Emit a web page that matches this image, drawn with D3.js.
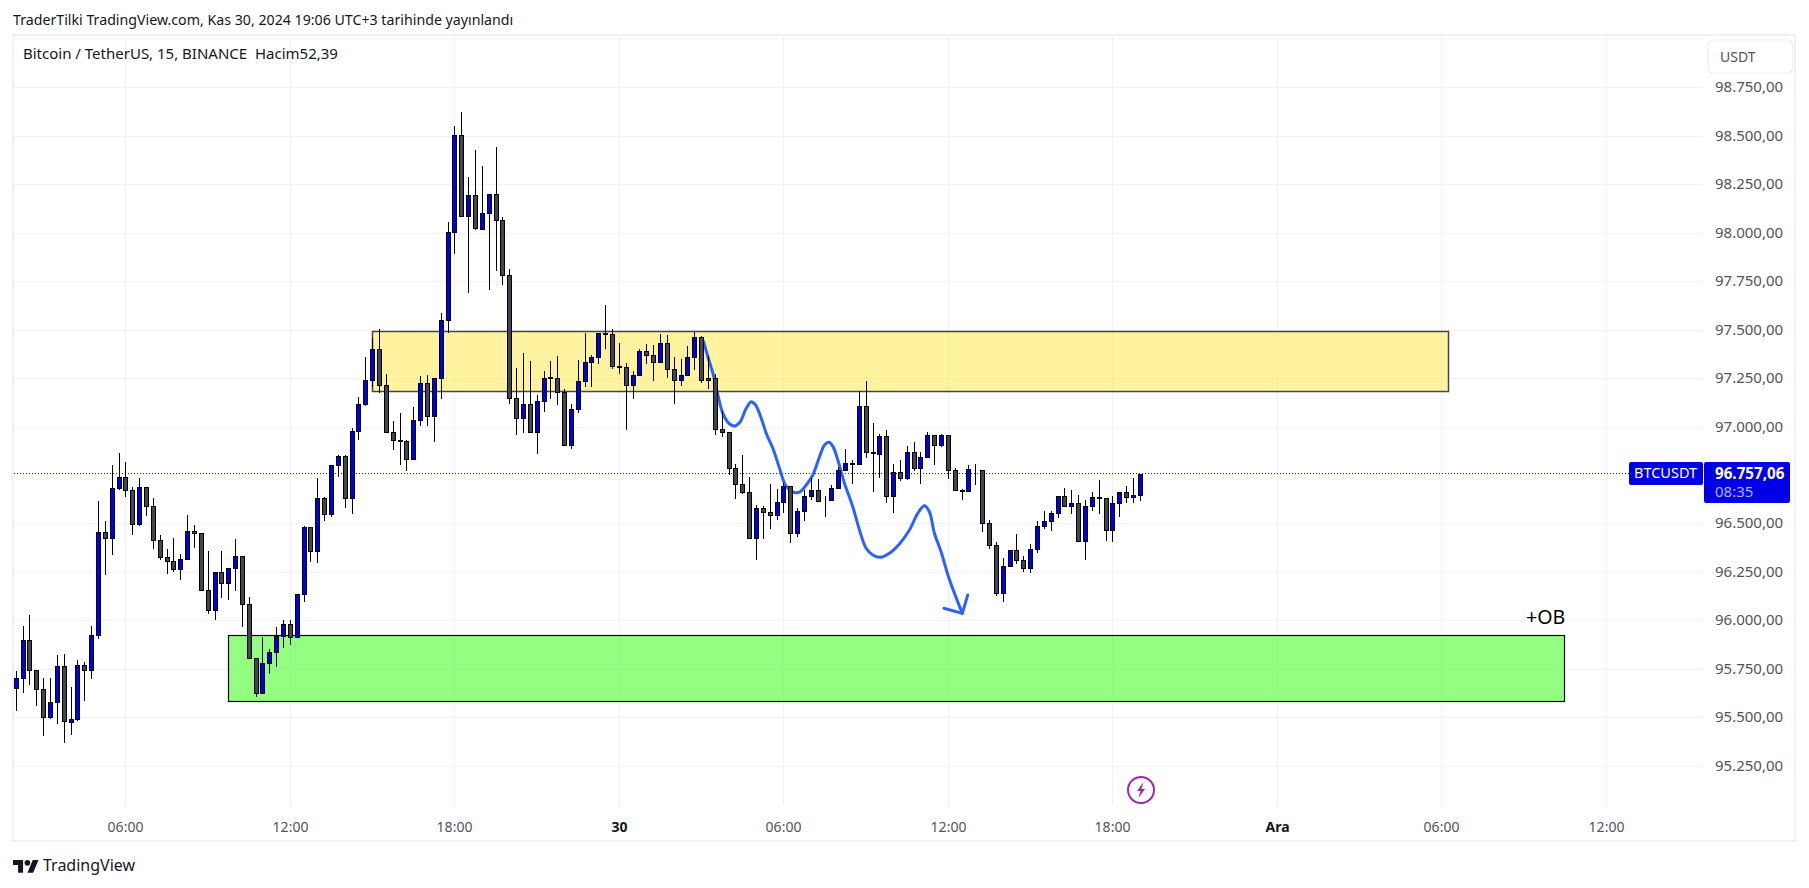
<!DOCTYPE html>
<html><head><meta charset="utf-8">
<script src="https://cdn.jsdelivr.net/npm/d3@7"></script>
<style>
html,body{margin:0;padding:0;background:#fff;overflow:hidden}
svg{display:block}
text{font-family:"Noto Sans",sans-serif}
</style></head><body>
<svg id="c" width="1809" height="888"></svg>
<script>
const opens=[95653,95701,95897,95742,95644,95500,95577,95763,95474,95489,95768,95742,95923,96454,96423,96681,96738,96671,96495,96686,96588,96413,96325,96304,96263,96315,96459,96449,96155,96052,96248,96191,96268,96330,96083,95804,95623,95778,95835,95917,95979,95912,96134,96480,96356,
96630,96547,96800,96846,96630,96975,97114,97238,97398,97213,96970,96929,96927,96831,97032,97223,97053,97249,97548,98002,98502,98084,98193,98017,98100,98198,98064,97780,97145,97042,97114,96970,97130,97254,97252,97176,96903,97089,97233,97331,97357,97481,97476,97311,97309,97212,97264,97388,97367,97331,97429,97295,97238,97264,97357,97460,97249,97249,
96985,96970,96784,96702,96660,96423,96578,96557,96542,96609,96691,96449,96562,96640,96671,96617,96619,96681,96774,96810,96805,97104,96867,96860,96949,96640,96764,96733,96867,96784,96841,96955,96903,96955,96774,96671,96666,96776,96774,96500,
96387,96139,96279,96361,96310,96268,96366,96485,96511,96552,96640,96588,96604,96408,96588,96635,96629,96464,96604,96660,96635,96645];
const highs=[95739,95971,96028,95742,95701,95701,95821,95826,95656,95795,95783,95971,96616,96511,96801,96863,96817,96686,96733,96686,96630,96439,96366,96425,96341,96544,96490,96449,96358,96248,96358,96268,96418,96330,96119,95804,95914,95850,95964,96000,96000,96134,96487,96480,96733,
96635,96800,96853,96851,96991,97152,97359,97457,97501,97271,97028,97068,96929,97099,97259,97264,97249,97584,98053,98549,98621,98286,98425,98342,98198,98442,98079,97811,97300,97378,97336,97163,97285,97338,97362,97192,97116,97341,97482,97367,97481,97625,97501,97429,97326,97285,97398,97424,97419,97476,97470,97357,97347,97414,97488,97465,97362,97269,
97078,96970,96805,96851,96738,96593,96588,96703,96678,96707,96691,96580,96671,96733,96728,96640,96697,96789,96882,96826,97182,97233,97016,96960,96980,96805,96826,96898,96918,96867,96970,96955,96960,96955,96784,96676,96801,96805,96774,96516,
96402,96320,96361,96445,96330,96392,96511,96562,96562,96640,96681,96671,96645,96619,96660,96722,96629,96642,96660,96691,96733,96757];
const lows=[95532,95625,95666,95558,95403,95491,95465,95367,95409,95481,95584,95697,95904,96234,96337,96673,96636,96440,96487,96538,96368,96311,96239,96249,96208,96315,96373,96155,96033,96002,96115,96105,96151,95966,95804,95605,95623,95723,95759,95857,95873,95912,96095,96301,96296,
96513,96533,96740,96580,96549,96930,97106,97202,97175,96970,96879,96801,96771,96831,97003,97003,96920,97142,97482,97890,98084,97689,98014,98017,97704,97802,97730,97116,96956,96967,96970,96858,97075,97142,97111,96903,96884,97070,97204,97204,97323,97400,97297,97271,96982,97142,97264,97323,97235,97331,97250,97116,97209,97264,97292,97225,97194,96956,
96946,96750,96626,96652,96423,96311,96420,96471,96518,96554,96399,96430,96513,96619,96614,96533,96619,96681,96774,96703,96805,96838,96662,96734,96605,96554,96717,96724,96771,96703,96841,96800,96893,96729,96671,96621,96666,96698,96456,96366,
96126,96095,96279,96291,96249,96244,96347,96471,96461,96528,96588,96549,96408,96311,96564,96549,96409,96404,96533,96605,96605,96616];
const closes=[95701,95897,95742,95644,95500,95577,95763,95479,95489,95768,95742,95923,96454,96423,96681,96738,96671,96495,96686,96588,96413,96325,96304,96263,96315,96459,96449,96155,96052,96248,96191,96268,96330,96083,95804,95623,95778,95835,95917,95979,95912,96134,96480,96356,96630,
96547,96800,96846,96630,96975,97114,97238,97398,97213,96970,96929,96927,96831,97032,97223,97053,97249,97548,98002,98502,98084,98193,98022,98100,98198,98064,97780,97145,97042,97114,96970,97130,97249,97252,97176,96903,97089,97233,97331,97357,97481,97479,97311,97309,97212,97264,97388,97367,97331,97429,97295,97238,97264,97357,97460,97238,97238,96986,
96970,96784,96702,96660,96423,96578,96557,96542,96609,96691,96449,96562,96640,96671,96614,96615,96681,96774,96810,96807,97104,96867,96865,96949,96640,96764,96733,96867,96784,96841,96955,96903,96955,96774,96671,96669,96779,96774,96500,96387,
96139,96279,96361,96310,96268,96366,96485,96511,96552,96640,96588,96604,96408,96588,96635,96631,96464,96604,96660,96635,96645,96757];

const priceTicks=[98750,98500,98250,98000,97750,97500,97250,97000,96500,96250,96000,95750,95500,95250];
const priceLabels=["98.750,00","98.500,00","98.250,00","98.000,00","97.750,00","97.500,00","97.250,00","97.000,00","96.500,00","96.250,00","96.000,00","95.750,00","95.500,00","95.250,00"];
const timeTicks=[16,40,64,88,112,136,160,184,208,232];
const timeLabels=["06:00","12:00","18:00","30","06:00","12:00","18:00","Ara","06:00","12:00"];
const boldTimeLabels=["30","Ara"];

const yellowBars=[52,209], yellowPrices=[97491,97182];
const greenBars=[31,226], greenPrices=[95925,95585];
const lastPrice=96757.06;
const penBars=[100.36,100.98,101.71,102.44,103.17,104.15,104.98,105.71,106.58,107.31,107.94,108.77,109.59,110.46,111.44,112.31,113.38,114.35,115.33,116.29,117.27,118,118.62,119.2,119.94,120.91,122.12,123.1,124.07,125.04,126.16,127.47,128.93,130.39,131.6,132.57,133.3,134.03,135,136.21,138.1];
const penPrices=[97438,97360,97275,97163,97068,97013,97003,97025,97094,97128,97111,97042,96956,96888,96784,96698,96662,96662,96698,96750,96844,96905,96919,96899,96827,96707,96586,96466,96372,96337,96325,96346,96394,96466,96552,96591,96560,96449,96354,96212,96036];
const arrowBars=[135.43,138.1,138.9];
const arrowPrices=[96062,96036,96131];

const UP="#0000e6", DOWN="#434651", INK="#131722", AXIS="#50535e", GRID="#f1f1f4", FRAME="#f0f0f7";
const svg=d3.select("#c");
const x=d3.scaleLinear().domain([16,160]).range([125.4,1112.4]);
const y=d3.scaleLinear().domain([98750,95250]).range([87.3,765.7]);
const px=i=>Math.round(x(i))+.5, py=p=>Math.round(y(p))+.5;
const L=14,R=1703,T=36,B=806;

// frame
svg.append("rect").attr("x",13).attr("y",35).attr("width",1782).attr("height",806)
  .attr("fill","#fff").attr("stroke",FRAME).attr("stroke-width",2);

// grid
const gridX=svg.append("g").attr("transform",`translate(0,${B})`)
  .call(d3.axisBottom(x).tickValues(timeTicks).tickSize(0).tickFormat((d,i)=>timeLabels[i]));
gridX.select(".domain").remove();
gridX.selectAll(".tick").attr("transform",d=>`translate(${px(d)},0)`);
gridX.selectAll(".tick line").attr("y1",0).attr("y2",T-B).attr("stroke",GRID);
gridX.selectAll(".tick text").attr("y",22).attr("dy",0).attr("dominant-baseline","middle")
  .attr("font-size",14).attr("fill",(d,i)=>boldTimeLabels.includes(timeLabels[i])?INK:AXIS)
  .attr("font-weight",(d,i)=>boldTimeLabels.includes(timeLabels[i])?700:400)
  .style("font-family",'"Noto Sans",sans-serif');
const gridY=svg.append("g").attr("transform",`translate(${R},0)`)
  .call(d3.axisRight(y).tickValues(priceTicks).tickSize(0).tickFormat((d,i)=>priceLabels[i]));
gridY.select(".domain").remove();
gridY.selectAll(".tick").attr("transform",d=>`translate(0,${py(d)})`);
gridY.selectAll(".tick line").attr("x1",0).attr("x2",L-R).attr("stroke",GRID);
gridY.selectAll(".tick text").attr("x",12).attr("y",0).attr("dy",0).attr("dominant-baseline","middle")
  .attr("font-size",15).attr("fill",AXIS).style("font-family",'"Noto Sans",sans-serif');
// the extra gridline above the top tick
svg.append("line").attr("x1",L).attr("x2",R).attr("y1",y(99000)).attr("y2",y(99000)).attr("stroke",GRID);

// zones
svg.append("rect").attr("x",px(yellowBars[0])).attr("y",py(yellowPrices[0]))
  .attr("width",px(yellowBars[1])-px(yellowBars[0])).attr("height",py(yellowPrices[1])-py(yellowPrices[0]))
  .attr("fill","rgba(255,231,65,.5)").attr("stroke","#434651").attr("stroke-width",1.5);
svg.append("rect").attr("x",px(greenBars[0])).attr("y",py(greenPrices[0]))
  .attr("width",px(greenBars[1])-px(greenBars[0])-1).attr("height",py(greenPrices[1])-py(greenPrices[0]))
  .attr("fill","rgba(76,253,47,.6)").attr("stroke","#000").attr("stroke-width",1.2);

// last price dotted line
svg.append("line").attr("x1",L).attr("x2",1629).attr("y1",y(lastPrice)).attr("y2",y(lastPrice))
  .attr("stroke",UP).attr("stroke-dasharray","1 2");

// pen
const line=d3.line().x(d=>x(d[0])).y(d=>y(d[1]));
svg.append("path").datum(penBars.map((b,i)=>[b,penPrices[i]]))
  .attr("d",line.curve(d3.curveCatmullRom)).attr("fill","none").attr("stroke","#2962ff")
  .attr("stroke-width",3).attr("stroke-linecap","round").attr("stroke-linejoin","round");
svg.append("path").datum(arrowBars.map((b,i)=>[b,arrowPrices[i]]))
  .attr("d",d3.line().x(d=>x(d[0])).y(d=>y(d[1]))).attr("fill","none").attr("stroke","#2962ff")
  .attr("stroke-width",3).attr("stroke-linecap","round").attr("stroke-linejoin","round");

// candles
const idx=d3.range(opens.length);
const g=svg.append("g");
g.selectAll("line").data(idx).join("line")
  .attr("x1",px).attr("x2",px).attr("y1",i=>Math.round(y(highs[i]))).attr("y2",i=>Math.round(y(lows[i])))
  .attr("stroke","#000");
g.selectAll("rect").data(idx).join("rect")
  .attr("x",i=>px(i)-2).attr("width",4)
  .attr("y",i=>py(Math.max(opens[i],closes[i])))
  .attr("height",i=>Math.max(0,py(Math.min(opens[i],closes[i]))-py(Math.max(opens[i],closes[i]))))
  .attr("fill",i=>closes[i]>=opens[i]?UP:DOWN).attr("stroke","#000");

// header texts
svg.append("text").attr("x",13).attr("y",21).attr("dominant-baseline","middle").attr("font-size",14.2).attr("fill",INK)
  .text("TraderTilki TradingView.com, Kas 30, 2024 19:06 UTC+3 tarihinde yayınlandı");
svg.append("text").attr("x",23).attr("y",55).attr("dominant-baseline","middle").attr("font-size",15).attr("fill",INK)
  .attr("xml:space","preserve").style("white-space","pre").text("Bitcoin / TetherUS, 15, BINANCE  Hacim52,39");

// USDT button
svg.append("rect").attr("x",1708).attr("y",40).attr("width",84.5).attr("height",33).attr("rx",5)
  .attr("fill","#fff").attr("stroke","#eeeef3").attr("stroke-width",1.2);
svg.append("text").attr("x",1720).attr("y",58.5).attr("dominant-baseline","middle").attr("font-size",14).attr("fill",AXIS).text("USDT");

// last price tags
const ly=y(lastPrice);
svg.append("rect").attr("x",1629).attr("y",ly-11.5).attr("width",74).attr("height",23).attr("rx",2).attr("fill",UP);
svg.append("text").attr("x",1634).attr("y",ly+1).attr("dominant-baseline","middle").attr("font-size",14.5).attr("fill","#fff").text("BTCUSDT");
svg.append("rect").attr("x",1704).attr("y",ly-11.5).attr("width",86).attr("height",41).attr("rx",2).attr("fill",UP);
svg.append("text").attr("x",1715).attr("y",ly+1).attr("dominant-baseline","middle").attr("font-size",15.2).attr("font-weight",700).attr("fill","#fff").text("96.757,06");
svg.append("text").attr("x",1715).attr("y",ly+19).attr("dominant-baseline","middle").attr("font-size",15).attr("fill","#b3b3f7").text("08:35");

// +OB
svg.append("text").attr("x",1526).attr("y",619).attr("dominant-baseline","middle").attr("font-size",19.6).attr("fill","#000").text("+OB");

// lightning badge
const badge=svg.append("g").attr("transform","translate(1141,790)");
badge.append("circle").attr("r",13).attr("fill","#fff").attr("stroke","#9c27b0").attr("stroke-width",2);
badge.append("path").attr("d","M2.5,-8 L-4,1 L-0.5,1 L-2.5,8 L4,-1 L0.5,-1 Z").attr("fill","#9c27b0");

// logo
const logo=svg.append("g").attr("transform","translate(13,857) scale(.72)").attr("fill",INK);
logo.append("path").attr("d","M14 22H7V11H0V4h14v18zM28 22h-8l7.5-18h8L28 22z");
logo.append("circle").attr("cx",20).attr("cy",8).attr("r",4);
svg.append("text").attr("x",43).attr("y",867).attr("dominant-baseline","middle").attr("font-size",16).attr("fill",INK).text("TradingView");
</script>
</body></html>
